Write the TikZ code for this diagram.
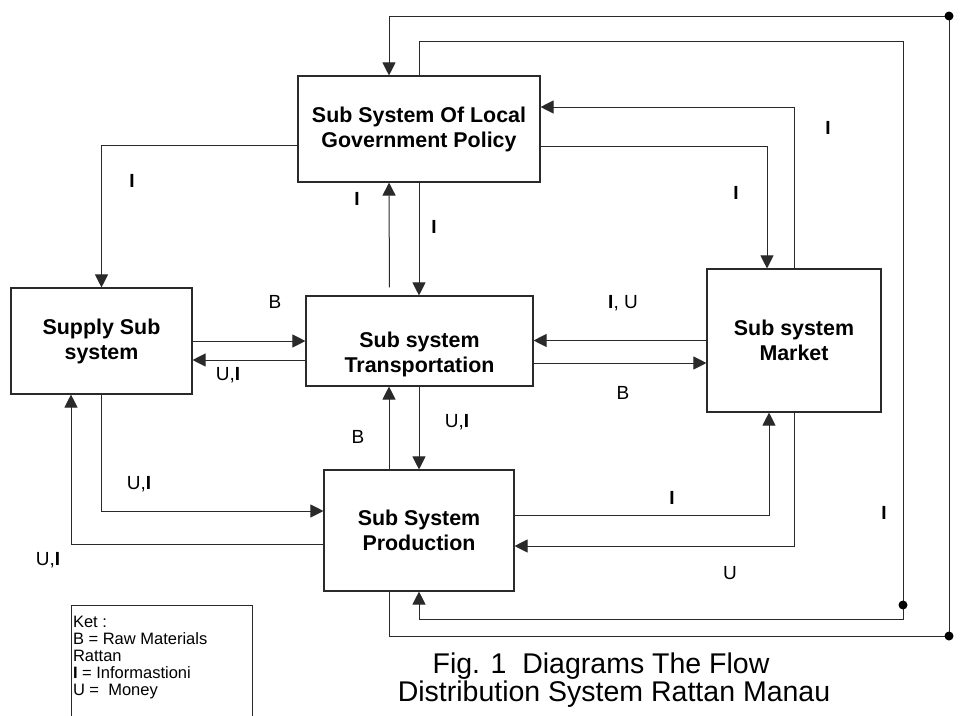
\documentclass[tikz,border=0pt]{standalone}
\usepackage{fontspec}
\setmainfont{Liberation Sans}
\usepackage{tikz}
\usetikzlibrary{arrows.meta}
\definecolor{ink}{HTML}{2A2A2A}

\begin{document}
\begin{tikzpicture}[
  x=1pt,y=-1pt,
  box/.style={draw=ink,line width=1.1pt,align=center,inner sep=0pt,
    font=\fontsize{21.4}{25}\selectfont\bfseries},
  lbl/.style={font=\fontsize{19}{22}\selectfont,inner sep=0pt},
  arr/.style={-{Triangle[length=13pt,width=13pt]},line width=1pt,draw=ink},
  dot/.style={fill=black}
]
\useasboundingbox (0,0) rectangle (971,715);
\node[box,minimum width=242pt,minimum height=106pt] (gov) at (419,129) {Sub System Of Local\\Government Policy};
\node[box,minimum width=181pt,minimum height=106pt] (supply) at (101.5,341) {Supply Sub\\system};
\node[box,minimum width=227pt,minimum height=90pt] (transport) at (419.5,341) {\rule{0pt}{42pt}Sub system\\Transportation};
\node[box,minimum width=174pt,minimum height=143pt] (market) at (794,340.5) {Sub system\\Market};
\node[box,minimum width=190pt,minimum height=121pt] (production) at (419,530.5) {Sub System\\Production};
\coordinate (topdot) at (949,16);
\coordinate (botdot) at (949,636);
\coordinate (loopne) at (903,41);
\coordinate (loopse) at (903,619);
\coordinate (loopdot) at (903,605);
% government policy
\draw[arr] ([yshift=-16pt]gov.west) -| (supply.north);
\draw[arr] ([yshift=-17pt]gov.east) -| ([xshift=-27pt]market.north);
\draw[arr] (market.north) |- ([yshift=22pt]gov.east);
\draw[arr,shorten <=8pt] ([xshift=-30pt]transport.north) -- ([xshift=-30pt]gov.south);
\draw[arr] (gov.south) -- (gov.south |- transport.north);
% transportation
\draw[arr] (supply.east) -- (supply.east -| transport.west);
\draw[arr] ([yshift=-19pt]transport.west) -- ([yshift=-19pt]transport.west -| supply.east);
\draw[arr] (market.west) -- (market.west -| transport.east);
\draw[arr] ([yshift=-22pt]transport.east) -- ([yshift=-22pt]transport.east -| market.west);
\draw[arr] ([xshift=-30pt]production.north) -- ([xshift=-30pt]production.north |- transport.south);
\draw[arr] (production.north |- transport.south) -- (production.north);
% production
\draw[arr] (supply.south) |- ([yshift=19.5pt]production.west);
\draw[arr] ([yshift=-13.5pt]production.west) -| ([xshift=-30.5pt]supply.south);
\draw[arr] ([yshift=15.5pt]production.east) -| ([xshift=-25pt]market.south);
\draw[arr] (market.south) |- ([yshift=-15.5pt]production.east);
% outer loops
\draw[arr] ([xshift=-30pt]production.south) |- (botdot) -- (topdot) -| ([xshift=-30pt]gov.north);
\draw[arr] (gov.north) |- (loopne) -- (loopse) -| (production.south);
\fill[dot] (topdot) circle (4.5pt);
\fill[dot] (botdot) circle (4.5pt);
\fill[dot] (loopdot) circle (4.5pt);
% labels
\node[lbl] (igovsup) at (132,181) {\textbf{I}};
\node[lbl] (itransgov) at (357,199) {\textbf{I}};
\node[lbl] (igovtrans) at (434,227) {\textbf{I}};
\node[lbl] (igovmar) at (736,193) {\textbf{I}};
\node[lbl] (imargov) at (828,128) {\textbf{I}};
\node[lbl] (bsuptrans) at (275,302) {B};
\node[lbl] (uitranssup) at (228,375) {U,\textbf{I}};
\node[lbl] (iumartrans) at (623,303) {\textbf{I}, U};
\node[lbl] (btransmar) at (623,393) {B};
\node[lbl] (bprodtrans) at (358,437) {B};
\node[lbl] (uitransprod) at (457,422) {U,\textbf{I}};
\node[lbl] (uisupprod) at (139,484) {U,\textbf{I}};
\node[lbl] (uiprodsup) at (48,560) {U,\textbf{I}};
\node[lbl] (iprodmar) at (672,498) {\textbf{I}};
\node[lbl] (iloop) at (884,513) {\textbf{I}};
\node[lbl] (umarprod) at (730,573) {U};
% legend and caption
\node[draw=ink,line width=1pt,inner sep=1.5pt,anchor=north west] (ket) at (71,605)
  {\parbox[t][118pt][t]{178pt}{\fontsize{16.5}{17}\selectfont\raggedright
   \rule{0pt}{20pt}Ket :\\B = Raw Materials\\Rattan\\\textbf{I} = Informastioni\\U =\ \ Money}};
\node[font=\fontsize{28.5}{28}\selectfont,align=center] (caption) at (614,680)
  {Fig. 1\ \ Diagrams The Flow\hspace*{26pt}\\Distribution System Rattan Manau};
\end{tikzpicture}
\end{document}
